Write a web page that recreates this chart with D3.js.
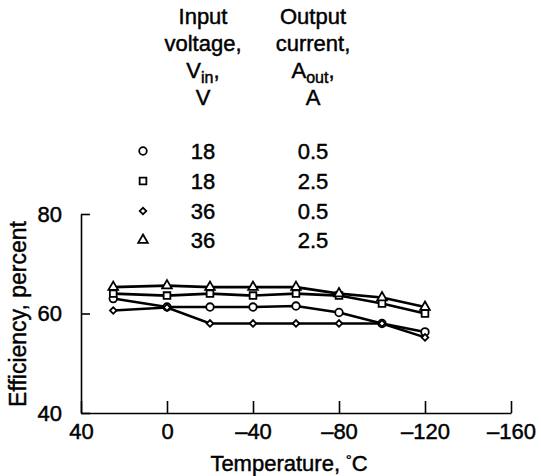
<!DOCTYPE html>
<html>
<head>
<meta charset="utf-8">
<script src="https://cdn.jsdelivr.net/npm/d3@7"></script>
<style>
  body { margin: 0; background: #fff; }
  text { font-family: "Liberation Sans", Arial, sans-serif; fill: #000; stroke: #000; stroke-width: 0.45; }
  .axis path, .axis line { stroke: #000; stroke-width: 1.6; }
</style>
</head>
<body>
<svg></svg>
<script>
var temps = [25, 0, -20, -40, -60, -80, -100, -120];
var eff18low = [63, 61.3, 61.3, 61.3, 61.5, 60.2, 58, 56.3];
var eff18high = [64, 63.6, 64, 63.6, 64, 63.6, 62, 60];
var eff36low = [60.6, 61.2, 58, 58, 58, 58, 58, 55.2];
var eff36high = [65.3, 65.6, 65.3, 65.3, 65.3, 64, 63.2, 61.3];
var xTicks = [40, 0, -40, -80, -120, -160];
var yTicks = [40, 60, 80];
var legendVin = ["18", "18", "36", "36"];
var legendAout = ["0.5", "2.5", "0.5", "2.5"];
var symbols = [d3.symbolCircle, d3.symbolSquare, d3.symbolSquare, d3.symbolTriangle];
var symSizes = [45, 45, 22, 40];
var symRot = [0, 0, 45, 0];

var width = 541, height = 476;
var svg = d3.select("svg").attr("width", width).attr("height", height);

var x = d3.scaleLinear().domain([40, -160]).range([81, 511]);
var y = d3.scaleLinear().domain([40, 80]).range([413, 214]);

svg.append("g")
  .attr("class", "axis")
  .attr("transform", "translate(0,413)")
  .call(d3.axisBottom(x).tickValues(xTicks).tickSize(-12).tickSizeOuter(0).tickPadding(10)
    .tickFormat(d => d < 0 ? "\u2013" + (-d) : d))
  .call(g => g.selectAll("text").attr("font-size", 22));

svg.append("g")
  .attr("class", "axis")
  .attr("transform", "translate(81,0)")
  .call(d3.axisLeft(y).tickValues(yTicks).tickSize(-9).tickSizeOuter(0).tickPadding(19))
  .call(g => g.selectAll("text").attr("font-size", 22));

var xt = svg.append("text")
  .attr("x", 289).attr("y", 471)
  .attr("text-anchor", "middle").attr("font-size", 22);
xt.append("tspan").text("Temperature, ");
xt.append("tspan").attr("font-size", 14).attr("dy", -6).text("\u00b0");
xt.append("tspan").attr("dy", 6).text("C");

svg.append("text")
  .attr("transform", "translate(26,314) rotate(-90)")
  .attr("text-anchor", "middle").attr("font-size", 23)
  .text("Efficiency, percent");

var series = [eff18low, eff18high, eff36low, eff36high];
var line = d3.line().x((d, i) => x(temps[i])).y(d => y(d));

series.forEach(function (s, k) {
  svg.append("path")
    .attr("d", line(s))
    .attr("fill", "none")
    .attr("stroke", "#000")
    .attr("stroke-width", 2.6);
});
series.forEach(function (s, k) {
  svg.selectAll(null)
    .data(s)
    .enter()
    .append("path")
    .attr("d", d3.symbol().type(symbols[k]).size(symSizes[k]))
    .attr("transform", (d, i) => "translate(" + x(temps[i]) + "," + y(d) + ") rotate(" + symRot[k] + ")")
    .attr("fill", "#fff")
    .attr("stroke", "#000")
    .attr("stroke-width", 1.8);
});

// legend
var header1 = ["Input", "voltage,", "V", "V"];
var header2 = ["Output", "current,", "A", "A"];
var headY = [24, 51, 78, 105];
[header1, header2].forEach(function (h, c) {
  var cx = c === 0 ? 203 : 313;
  h.forEach(function (t, r) {
    var txt = svg.append("text")
      .attr("x", cx).attr("y", headY[r])
      .attr("text-anchor", "middle").attr("font-size", 22);
    if (r === 2) {
      txt.append("tspan").text(t);
      txt.append("tspan").attr("font-size", 16).attr("dy", 5).text(c === 0 ? "in" : "out");
      txt.append("tspan").attr("dy", -5).text(",");
    } else {
      txt.text(t);
    }
  });
});

var rowY = [151, 181, 211, 240];
legendVin.forEach(function (v, i) {
  svg.append("path")
    .attr("d", d3.symbol().type(symbols[i]).size(symSizes[i]))
    .attr("transform", "translate(143," + rowY[i] + ") rotate(" + symRot[i] + ")")
    .attr("fill", "#fff").attr("stroke", "#000").attr("stroke-width", 1.8);
  svg.append("text")
    .attr("x", 203).attr("y", rowY[i] + 8)
    .attr("text-anchor", "middle").attr("font-size", 22)
    .text(v);
  svg.append("text")
    .attr("x", 313).attr("y", rowY[i] + 8)
    .attr("text-anchor", "middle").attr("font-size", 22)
    .text(legendAout[i]);
});
</script>
</body>
</html>
